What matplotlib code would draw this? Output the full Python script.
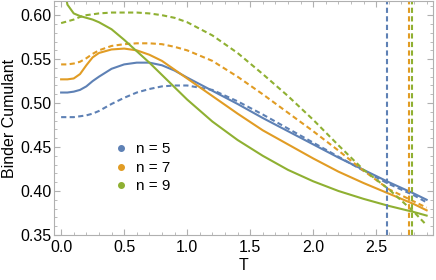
import matplotlib
matplotlib.use("Agg")
import matplotlib.pyplot as plt
from matplotlib.lines import Line2D

plt.rcParams['font.family'] = ['Liberation Sans', 'DejaVu Sans']

# temperatures for all curves
T = [0.0, 0.05, 0.1, 0.15, 0.2, 0.25, 0.3, 0.4, 0.5, 0.6, 0.7, 0.8, 0.9, 1.0, 1.2, 1.4,
     1.6, 1.8, 2.0, 2.2, 2.4, 2.6, 2.8, 2.9]

# n = 5
b5_solid = [0.512, 0.512, 0.513, 0.515, 0.519, 0.525, 0.530, 0.539, 0.544, 0.546, 0.546, 0.543,
            0.537, 0.529, 0.514, 0.499, 0.483, 0.468, 0.453, 0.438, 0.424, 0.410, 0.397, 0.390]
b5_dash = [0.484, 0.484, 0.484, 0.485, 0.486, 0.488, 0.491, 0.499, 0.506, 0.512, 0.516, 0.519,
           0.520, 0.520, 0.515, 0.502, 0.487, 0.471, 0.455, 0.439, 0.423, 0.408, 0.395, 0.387]
# n = 7
b7_solid = [0.527, 0.527, 0.528, 0.533, 0.543, 0.552, 0.557, 0.561, 0.562, 0.560, 0.555, 0.548,
            0.538, 0.528, 0.508, 0.488, 0.469, 0.453, 0.437, 0.422, 0.409, 0.397, 0.385, 0.378]
b7_dash = [0.544, 0.544, 0.545, 0.547, 0.551, 0.556, 0.560, 0.565, 0.567, 0.568, 0.568, 0.567,
           0.564, 0.560, 0.548, 0.530, 0.510, 0.489, 0.468, 0.446, 0.423, 0.402, 0.388, 0.381]
# n = 9
b9_solid = [0.650, 0.612, 0.602, 0.599, 0.597, 0.595, 0.592, 0.584, 0.572, 0.559, 0.546, 0.532,
            0.518, 0.504, 0.479, 0.458, 0.440, 0.424, 0.411, 0.400, 0.391, 0.383, 0.376, 0.372]
b9_dash = [0.591, 0.593, 0.595, 0.598, 0.600, 0.601, 0.602, 0.603, 0.603, 0.603, 0.602, 0.600,
           0.597, 0.592, 0.577, 0.557, 0.533, 0.508, 0.481, 0.452, 0.424, 0.402, 0.376, 0.361]

# critical temperatures (vertical markers)
t_crit = [2.587, 2.763, 2.786]

labels = ["n = 5", "n = 7", "n = 9"]
colors = ["#5E81B5", "#E19C24", "#8FB032"]

fig = plt.figure(figsize=(4.36, 2.8), dpi=100)
ax = fig.add_axes([0.124, 0.161, 0.869, 0.835])

dash = (0, (2.5, 1.6))
for solid, dashed, c in zip([b5_solid, b7_solid, b9_solid], [b5_dash, b7_dash, b9_dash], colors):
    ax.plot(T, solid, color=c, lw=1.5)
    ax.plot(T, dashed, color=c, lw=1.5, linestyle=dash)

for tc, c in zip(t_crit, colors):
    ax.axvline(tc, color=c, lw=1.5, linestyle=dash)

ax.set_xlim(-0.056, 2.95)
ax.set_ylim(0.35, 0.616)
ax.set_xticks([0.0, 0.5, 1.0, 1.5, 2.0, 2.5])
ax.set_yticks([0.35, 0.40, 0.45, 0.50, 0.55, 0.60])
ax.set_xticklabels(["0.0", "0.5", "1.0", "1.5", "2.0", "2.5"])
ax.set_yticklabels(["0.35", "0.40", "0.45", "0.50", "0.55", "0.60"])
ax.xaxis.set_minor_locator(matplotlib.ticker.MultipleLocator(0.1))
ax.yaxis.set_minor_locator(matplotlib.ticker.MultipleLocator(0.01))
ax.tick_params(which='both', direction='in', top=True, right=True, color='#b0b0b0',
               labelsize=11.5)
ax.tick_params(which='major', length=4, width=0.8)
ax.tick_params(which='minor', length=2, width=0.6)
ax.tick_params(axis='x', which='major', pad=4)
ax.tick_params(axis='y', which='major', pad=2)
for s in ax.spines.values():
    s.set_color('#b0b0b0')
    s.set_linewidth(0.8)

ax.set_xlabel("T", fontsize=11.5, labelpad=2)
ax.set_ylabel("Binder Cumulant", fontsize=11.5, labelpad=2)

handles = [Line2D([], [], color=c, marker='o', markersize=4, linestyle='none') for c in colors]
ax.legend(handles, labels, loc='upper left', bbox_to_anchor=(0.12, 0.455), frameon=False,
          fontsize=11, handletextpad=0.5, labelspacing=0.3, handlelength=1.0)

fig.savefig("out.png", dpi=100)
